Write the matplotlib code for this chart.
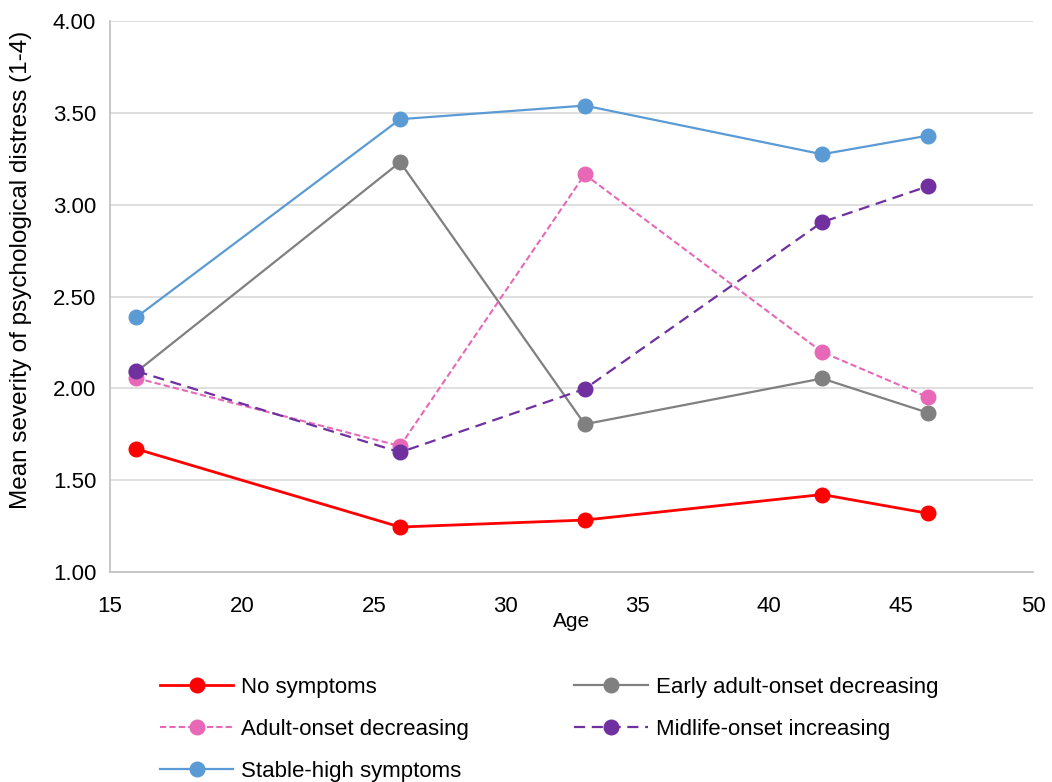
import matplotlib.pyplot as plt

plt.rcParams['font.family'] = ['Liberation Sans', 'DejaVu Sans']

ages = [16, 26, 33, 42, 46]
no_symptoms = [1.67, 1.245, 1.283, 1.422, 1.32]
early_adult = [2.09, 3.232, 1.805, 2.054, 1.868]
adult_onset = [2.056, 1.686, 3.165, 2.198, 1.953]
midlife = [2.094, 1.652, 1.997, 2.905, 3.10]
stable_high = [2.388, 3.466, 3.54, 3.275, 3.376]

series = [
    ("No symptoms", no_symptoms, "#FF0000", "-", 2.0),
    ("Early adult-onset decreasing", early_adult, "#808080", "-", 1.6),
    ("Adult-onset decreasing", adult_onset, "#E868B8", (0, (3, 1.5)), 1.5),
    ("Midlife-onset increasing", midlife, "#7030A0", (0, (5, 3)), 1.6),
    ("Stable-high symptoms", stable_high, "#5B9BD5", "-", 1.6),
]

fig = plt.figure(figsize=(10.52, 7.82), dpi=100)
ax = fig.add_axes([0.1046, 0.2685, 0.8774, 0.7045])

handles = {}
for name, vals, col, ls, lw in series:
    h, = ax.plot(ages, vals, color=col, linestyle=ls, linewidth=lw,
                 marker='o', markersize=10.5, markerfacecolor=col,
                 markeredgecolor=col, label=name, zorder=3)
    handles[name] = h

ax.set_xlim(15, 50)
ax.set_ylim(1.0, 4.0)
ax.set_xticks(range(15, 51, 5))
ax.set_yticks([1.0, 1.5, 2.0, 2.5, 3.0, 3.5, 4.0])
ax.set_yticklabels([f"{v:.2f}" for v in ax.get_yticks()])
ax.yaxis.grid(True, color='#D9D9D9', linewidth=1.2)
ax.set_axisbelow(True)
for s in ['top', 'right']:
    ax.spines[s].set_visible(False)
for s in ['left', 'bottom']:
    ax.spines[s].set_color('#BFBFBF')
    ax.spines[s].set_linewidth(1.2)
ax.tick_params(length=0, labelsize=16)
ax.tick_params(axis='x', pad=17)
ax.tick_params(axis='y', pad=10)
ax.set_xlabel("Age", fontsize=15, labelpad=-3)
ax.set_ylabel("Mean severity of psychological distress (1-4)", fontsize=17.5)
ax.yaxis.set_label_coords(-0.085, 0.548)

order = ["No symptoms", "Adult-onset decreasing", "Stable-high symptoms",
         "Early adult-onset decreasing", "Midlife-onset increasing"]
fig.legend([handles[n] for n in order], order, ncol=2, loc='upper left',
           bbox_to_anchor=(0.152, 0.134), frameon=False, fontsize=16,
           handlelength=3.3, handletextpad=0.35, columnspacing=4.75,
           labelspacing=0.93, borderaxespad=0, borderpad=0)

fig.savefig("out.png", dpi=100)
